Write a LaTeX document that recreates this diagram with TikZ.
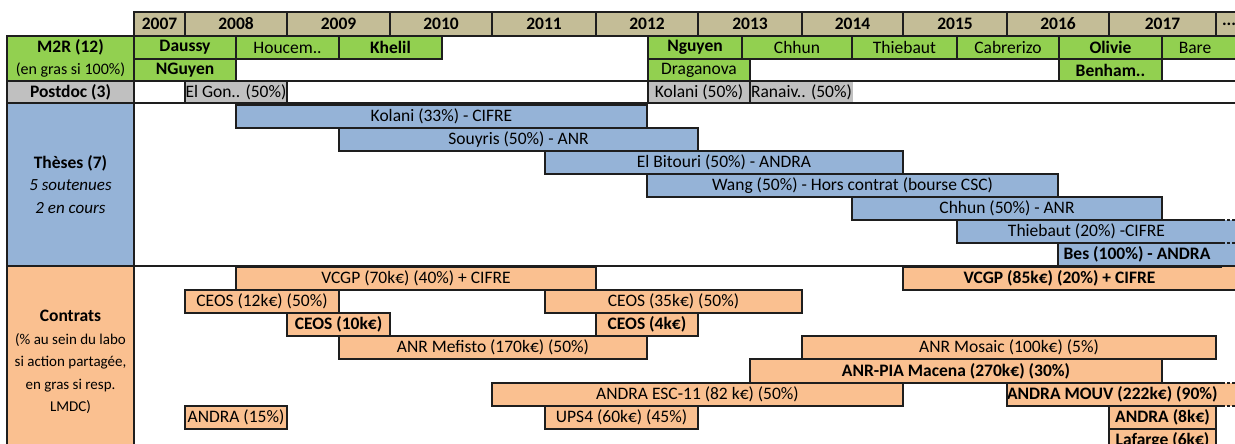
\documentclass[tikz,border=0pt]{standalone}
\usepackage{fontspec}
\setmainfont{Carlito}
\definecolor{linec}{HTML}{1E1E1E}
\definecolor{tanc}{HTML}{C4BD97}
\definecolor{grnc}{HTML}{92D050}
\definecolor{gryc}{HTML}{C0C0C0}
\definecolor{bluc}{HTML}{95B3D7}
\definecolor{orgc}{HTML}{FAC090}
\newcommand\fsz[1]{\fontsize{#1}{#1}\selectfont}
\newcommand\tbox[7]{\node[#6, anchor=north west, minimum width={(#4-#2)*1pt}, minimum height={(#5-#3)*1pt}] (#1) at (#2,#3) {#7};}
\newcommand\obar[7]{%
  \fill[#6] (#4,#3) rectangle (1240,#5);
  \node[cell, draw=none, fill=#6, anchor=north west, minimum width={(#4-#2)*1pt}, minimum height={(#5-#3)*1pt}] (#1) at (#2,#3) {#7};
  \draw[lin] (1222,#3) -| (#1.south west) -- (1222,#5);}
\tikzset{
  lin/.style={draw=linec, line width=1.3pt},
  cell/.style={lin, inner sep=0pt, outer sep=0pt, font=\fsz{17.5}, align=center},
  hdr/.style={cell, fill=tanc, font=\fsz{17.5}\bfseries},
  grn/.style={cell, fill=grnc},
  gry/.style={cell, fill=gryc},
  blu/.style={cell, fill=bluc},
  org/.style={cell, fill=orgc},
  wht/.style={cell, fill=white},
}
\begin{document}
\begin{tikzpicture}[x=1pt, y=-1pt]
\useasboundingbox[fill=white] (0,0) rectangle (1235,444);
% header
\tbox{h07}{134}{12}{185}{36}{hdr}{2007}
\tbox{h08}{185}{12}{287}{36}{hdr}{2008}
\tbox{h09}{287}{12}{390}{36}{hdr}{2009}
\tbox{h10}{390}{12}{492}{36}{hdr}{2010}
\tbox{h11}{492}{12}{596}{36}{hdr}{2011}
\tbox{h12}{596}{12}{698}{36}{hdr}{2012}
\tbox{h13}{698}{12}{802}{36}{hdr}{2013}
\tbox{h14}{802}{12}{903}{36}{hdr}{2014}
\tbox{h15}{903}{12}{1007}{36}{hdr}{2015}
\tbox{h16}{1007}{12}{1109}{36}{hdr}{2016}
\tbox{h17}{1109}{12}{1216}{36}{hdr}{2017}
\tbox{hdots}{1216}{12}{1242}{36}{hdr}{...}
% left labels
\tbox{lm2r}{7}{36}{134}{81}{grn}{\textbf{M2R (12)}\\[5pt]{\fsz{16}(en gras si 100\%)}}
\tbox{lpd}{7}{81}{134}{103}{gry}{\textbf{Postdoc (3)}}
\tbox{lth}{7}{103}{134}{266}{blu}{\textbf{Thèses (7)}\\[5pt]{\fsz{17}\itshape 5 soutenues}\\[5pt]{\fsz{17}\itshape 2 en cours}}
\tbox{lct}{7}{266}{134}{458}{org}{\textbf{Contrats}\\[5pt]{\fsz{15}(\% au sein du labo}\\[5pt]{\fsz{15}si action partagée,}\\[5pt]{\fsz{15}en gras si resp.}\\[5pt]{\fsz{15}LMDC)}}
% M2R row 1
\tbox{dau}{134}{36}{236}{59}{grn}{\textbf{Daussy}}
\tbox{hou}{236}{36}{339}{59}{grn}{Houcem..}
\tbox{khe}{339}{36}{442}{59}{grn}{\textbf{Khelil}}
\tbox{ngu}{648}{36}{742}{59}{grn}{\textbf{Nguyen}}
\tbox{chh}{742}{36}{852}{59}{grn}{Chhun}
\tbox{thi}{852}{36}{957}{59}{grn}{Thiebaut}
\tbox{cab}{957}{36}{1059}{59}{grn}{Cabrerizo}
\tbox{oli}{1059}{36}{1162}{59}{grn}{\textbf{Olivie}}
\tbox{bar}{1162}{36}{1242}{59}{grn}{Bare\hspace*{14pt}}
% M2R row 2
\tbox{ng2}{134}{59}{236}{81}{grn}{\textbf{NGuyen}}
\tbox{dra}{648}{59}{750}{81}{grn}{Draganova}
\tbox{ben}{1059}{59}{1162}{81}{grn}{\textbf{Benham..}}
% postdoc
\tbox{pd0}{134}{81}{185}{103}{wht}{}
\tbox{elg}{185}{81}{287}{103}{gry}{El Gon.. (50\%)}
\tbox{kol2}{648}{81}{750}{103}{gry}{Kolani (50\%)}
\tbox{ran}{750}{81}{853}{103}{gry, draw=none}{Ranaiv.. (50\%)}
\draw[lin] (kol2.north east) -- (kol2.south east);
\draw[lin] (134,81) -- (1240,81);
\draw[lin] (134,103) -- (1240,103);
% theses
\tbox{t1}{236}{105}{647}{128}{blu}{Kolani (33\%) - CIFRE}
\tbox{t2}{339}{128}{698}{151}{blu}{Souyris (50\%) - ANR}
\tbox{t3}{545}{151}{903}{174}{blu}{El Bitouri (50\%) - ANDRA}
\tbox{t4}{647}{174}{1058}{197}{blu}{Wang (50\%) - Hors contrat (bourse CSC)}
\tbox{t5}{852}{197}{1162}{220}{blu}{Chhun (50\%) - ANR}
\obar{t6}{957}{220}{1216}{243}{bluc}{Thiebaut (20\%) -CIFRE}
\obar{t7}{1058}{243}{1216}{266}{bluc}{\textbf{Bes (100\%) - ANDRA}}
\draw[lin, dashed, dash pattern=on 3pt off 2pt] (1222,220) -- (1240,220) (1222,243) -- (1240,243);
\draw[lin] (7,266) -- (1240,266);
% contrats
\tbox{c1}{236}{267}{596}{290}{org}{VCGP (70k€) (40\%) + CIFRE}
\obar{c2}{903}{267}{1216}{290}{orgc}{\textbf{VCGP (85k€) (20\%) + CIFRE}}
\draw[lin] (1222,290) -- (1240,290);
\tbox{c3}{185}{290}{339}{313}{org}{CEOS (12k€) (50\%)}
\tbox{c4}{545}{290}{802}{313}{org}{CEOS (35k€) (50\%)}
\tbox{c5}{287}{313}{390}{336}{org}{\textbf{CEOS (10k€)}}
\tbox{c6}{596}{313}{698}{336}{org}{\textbf{CEOS (4k€)}}
\tbox{c7}{339}{336}{647}{359}{org}{ANR Mefisto (170k€) (50\%)}
\tbox{c8}{802}{336}{1216}{359}{org}{ANR Mosaic (100k€) (5\%)}
\tbox{c9}{750}{359}{1162}{383}{org}{\textbf{ANR-PIA Macena (270k€) (30\%)}}
\tbox{c10}{492}{383}{903}{406}{org}{ANDRA ESC-11 (82 k€) (50\%)}
\obar{c11}{1007}{383}{1216}{406}{orgc}{\textbf{ANDRA MOUV (222k€) (90\%)}}
\draw[lin, dashed, dash pattern=on 3pt off 2pt] (1222,383) -- (1240,383) (1222,406) -- (1240,406);
\tbox{c12}{185}{406}{287}{429}{org}{ANDRA (15\%)}
\tbox{c13}{545}{406}{698}{429}{org}{UPS4 (60k€) (45\%)}
\tbox{c14}{1109}{406}{1216}{429}{org}{\textbf{ANDRA (8k€)}}
\tbox{c15}{1109}{429}{1216}{452}{org}{\textbf{Lafarge (6k€)}}
\end{tikzpicture}
\end{document}
